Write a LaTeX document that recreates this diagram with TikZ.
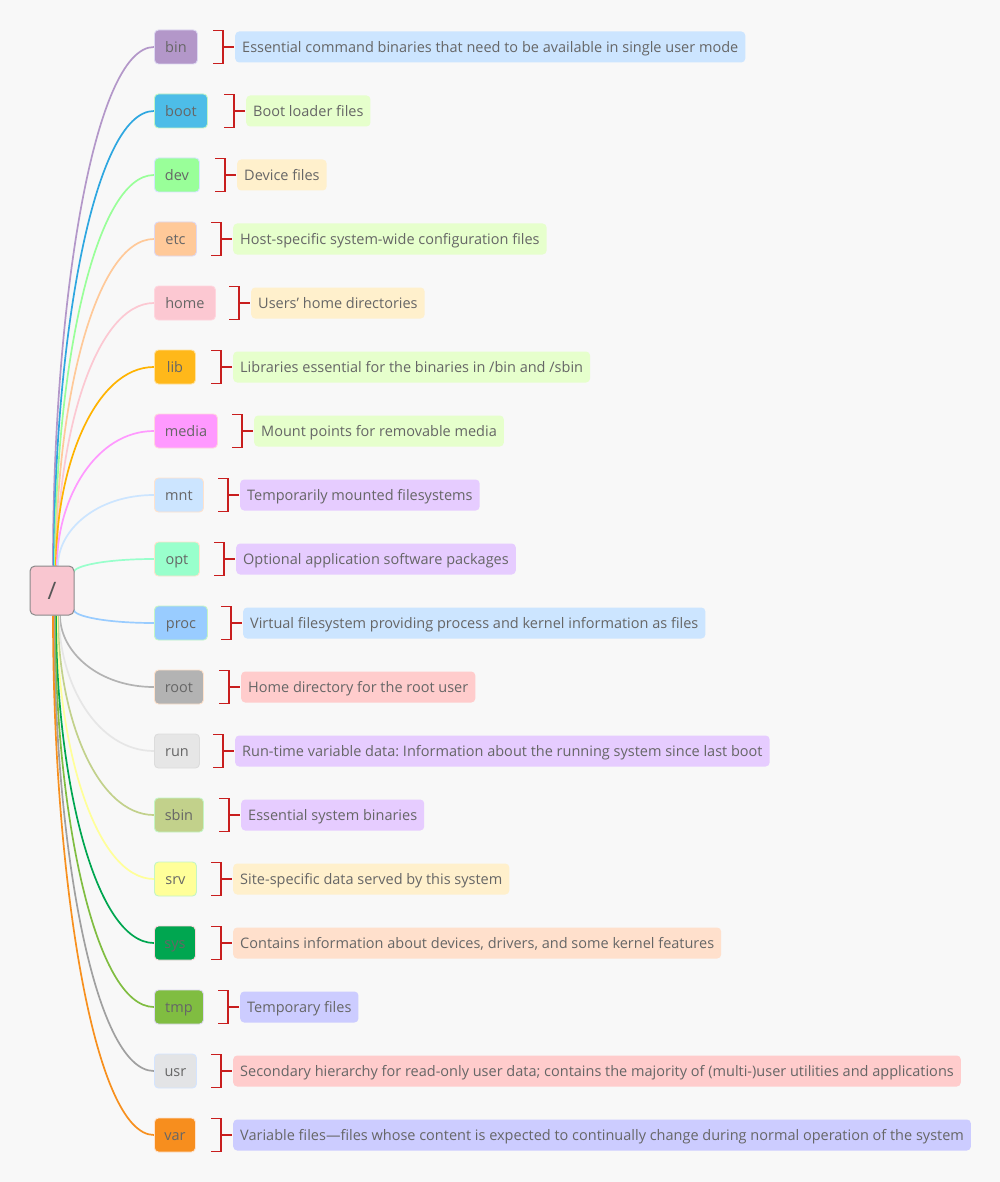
\documentclass[tikz,border=0pt]{standalone}
\usepackage{fontspec}
\setmainfont{Open Sans}
\usetikzlibrary{calc}
\frenchspacing
\pgfdeclarelayer{bg}
\pgfdeclarelayer{edges}
\pgfsetlayers{bg,edges,main}
\definecolor{bgc}{HTML}{F8F8F8}
\definecolor{txt}{HTML}{666666}
\definecolor{brkc}{HTML}{C81E1E}
\definecolor{dBlue}{HTML}{CCE5FF}
\definecolor{dGreen}{HTML}{E6FFCC}
\definecolor{dYellow}{HTML}{FFF0CC}
\definecolor{dPurple}{HTML}{E6CCFF}
\definecolor{dRed}{HTML}{FFCCCC}
\definecolor{dOrange}{HTML}{FFE0CC}
\definecolor{dLav}{HTML}{CCCCFF}
% directory box fills
\definecolor{fBin}{HTML}{B397C9}
\definecolor{fBoot}{HTML}{4DBDE8}
\definecolor{fDev}{HTML}{99FF99}
\definecolor{fEtc}{HTML}{FFC999}
\definecolor{fHome}{HTML}{FCC8D2}
\definecolor{fLib}{HTML}{FFB81A}
\definecolor{fMedia}{HTML}{FF99FF}
\definecolor{fMnt}{HTML}{CCE5FF}
\definecolor{fOpt}{HTML}{99FFCC}
\definecolor{fProc}{HTML}{99CCFF}
\definecolor{fRoot}{HTML}{B3B3B3}
\definecolor{fRun}{HTML}{E6E6E6}
\definecolor{fSbin}{HTML}{C2D18B}
\definecolor{fSrv}{HTML}{FFFF99}
\definecolor{fSys}{HTML}{00A650}
\definecolor{fTmp}{HTML}{80BD41}
\definecolor{fUsr}{HTML}{E3E4E6}
\definecolor{fVar}{HTML}{F78E1E}
% connector colours
\definecolor{lBoot}{HTML}{2EA7E0}
\definecolor{lLib}{HTML}{FFB300}
\definecolor{lUsr}{HTML}{A0A0A0}
\definecolor{lVar}{HTML}{F7901E}
% borders
\definecolor{bLav}{HTML}{DDD8F2}
\definecolor{bGreen}{HTML}{C4F5C4}
\definecolor{bBlue}{HTML}{D4E4FF}
\definecolor{bPink}{HTML}{FFD6DE}
\definecolor{bPeach}{HTML}{FFE2CC}
\definecolor{bYel}{HTML}{FFE2A0}
\definecolor{bGray}{HTML}{DCDCDC}
\definecolor{rootFill}{HTML}{F9C6D0}
\definecolor{rootLine}{HTML}{8A8A8A}

\newcommand\conn[3]{%
  \draw[ln, draw=#3] let \p1=(#1), \p2=(#2.west) in
    (\p1) .. controls (\x1,{0.5*(\y1+\y2)}) and ({\x1+0.4*(\x2-\x1)},\y2) .. (\p2);}
\newcommand\brk[1]{%
  \draw[brkline] ($(#1.west)+(-22,-16.5)$) -- ++(10,0) -- ++(0,33) -- ++(-10,0);
  \draw[brkline] ($(#1.west)+(-12,0)$) -- ($(#1.west)+(-1,0)$);}

\begin{document}
\begin{tikzpicture}[x=1pt,y=-1pt,
  dir/.style={rounded corners=4pt, minimum height=34pt, inner sep=0pt, anchor=west,
    font=\fontsize{14.5}{16}\selectfont, text=txt, line width=0.9pt,
    text height=12.2pt, text depth=2pt},
  desc/.style={rounded corners=4pt, minimum height=31pt, inner ysep=0pt, inner xsep=7pt,
    anchor=west, font=\fontsize{14.5}{16}\selectfont, text=txt,
    text height=12.2pt, text depth=2pt},
  ln/.style={line width=1.7pt},
  brkline/.style={draw=brkc, line width=1.2pt}]
\begin{pgfonlayer}{bg}
\fill[bgc] (0,0) rectangle (1000,1182);
\end{pgfonlayer}
\useasboundingbox (0,0) rectangle (1000,1182);

\node[draw=rootLine, fill=rootFill, rounded corners=5pt, line width=1pt,
  minimum width=44pt, minimum height=49pt, inner sep=0pt, text=txt!85!black,
  font=\fontsize{24}{26}\selectfont] (root) at (52,590.5) {/};

\node[dir, minimum width=43, fill=fBin, draw=bLav] (bin) at (154,47) {bin};
\node[dir, minimum width=53, fill=fBoot, draw=bGreen] (boot) at (154,111) {boot};
\node[dir, minimum width=45, fill=fDev, draw=bBlue] (dev) at (154,175) {dev};
\node[dir, minimum width=42, fill=fEtc, draw=bLav] (etc) at (154,239) {etc};
\node[dir, minimum width=61, fill=fHome, draw=bPink] (home) at (154,303) {home};
\node[dir, minimum width=41, fill=fLib, draw=bYel] (lib) at (154,367) {lib};
\node[dir, minimum width=63, fill=fMedia, draw=bPink] (media) at (154,431) {media};
\node[dir, minimum width=49, fill=fMnt, draw=bPeach] (mnt) at (154,495) {mnt};
\node[dir, minimum width=45, fill=fOpt, draw=bPeach] (opt) at (154,559) {opt};
\node[dir, minimum width=53, fill=fProc, draw=bGreen] (proc) at (154,623) {proc};
\node[dir, minimum width=49, fill=fRoot, draw=bPeach] (rootd) at (154,687) {root};
\node[dir, minimum width=45, fill=fRun, draw=bGray] (run) at (154,751) {run};
\node[dir, minimum width=49, fill=fSbin, draw=bGreen] (sbin) at (154,815) {sbin};
\node[dir, minimum width=42, fill=fSrv, draw=bGreen] (srv) at (154,879) {srv};
\node[dir, minimum width=41, fill=fSys, draw=bPink] (sys) at (154,943) {sys};
\node[dir, minimum width=49, fill=fTmp, draw=bLav] (tmp) at (154,1007) {tmp};
\node[dir, minimum width=42, fill=fUsr, draw=bBlue] (usr) at (154,1071) {usr};
\node[dir, minimum width=41, fill=fVar, draw=bPeach] (var) at (154,1135) {var};

\node[desc, fill=dBlue] (binD) at (235,47) {Essential command binaries that need to be available in single user mode};
\node[desc, fill=dGreen] (bootD) at (246,111) {Boot loader files};
\node[desc, fill=dYellow] (devD) at (237,175) {Device files};
\node[desc, fill=dGreen] (etcD) at (233,239) {Host-specific system-wide configuration files};
\node[desc, fill=dYellow] (homeD) at (251,303) {Users' home directories};
\node[desc, fill=dGreen] (libD) at (233,367) {Libraries essential for the binaries in /bin and /sbin};
\node[desc, fill=dGreen] (mediaD) at (254,431) {Mount points for removable media};
\node[desc, fill=dPurple] (mntD) at (240,495) {Temporarily mounted filesystems};
\node[desc, fill=dPurple] (optD) at (236,559) {Optional application software packages};
\node[desc, fill=dBlue] (procD) at (243,623) {Virtual filesystem providing process and kernel information as files};
\node[desc, fill=dRed] (rootdD) at (241,687) {Home directory for the root user};
\node[desc, fill=dPurple] (runD) at (235,751) {Run-time variable data: Information about the running system since last boot};
\node[desc, fill=dPurple] (sbinD) at (241,815) {Essential system binaries};
\node[desc, fill=dYellow] (srvD) at (233,879) {Site-specific data served by this system};
\node[desc, fill=dOrange] (sysD) at (233,943) {Contains information about devices, drivers, and some kernel features};
\node[desc, fill=dLav] (tmpD) at (240,1007) {Temporary files};
\node[desc, fill=dRed] (usrD) at (233,1071) {Secondary hierarchy for read-only user data; contains the majority of (multi-)user utilities and applications};
\node[desc, fill=dLav] (varD) at (233,1135) {Variable files—files whose content is expected to continually change during normal operation of the system};

\foreach \n in {binD,bootD,devD,etcD,homeD,libD,mediaD,mntD,optD,procD,rootdD,runD,sbinD,srvD,sysD,tmpD,usrD,varD}{\brk{\n}}

\begin{pgfonlayer}{edges}
\conn{$(root.north)+(1,0)$}{bin}{fBin}
\conn{$(root.north)+(2,0)$}{boot}{lBoot}
\conn{$(root.north)+(3,0)$}{dev}{fDev}
\conn{$(root.north)+(4,0)$}{etc}{fEtc}
\conn{$(root.north)+(5,0)$}{home}{fHome}
\conn{$(root.north)+(4,0)$}{lib}{lLib}
\conn{$(root.north)+(5,0)$}{media}{fMedia}
\conn{$(root.north)+(6,0)$}{mnt}{fMnt}
\conn{$(root.east)+(-1,-18)$}{opt}{fOpt}
\conn{$(root.east)+(-1,19)$}{proc}{fProc}
\conn{$(root.south)+(8,0)$}{rootd}{fRoot}
\conn{$(root.south)+(7,0)$}{run}{fRun}
\conn{$(root.south)+(6,0)$}{sbin}{fSbin}
\conn{$(root.south)+(5,0)$}{srv}{fSrv}
\conn{$(root.south)+(4,0)$}{sys}{fSys}
\conn{$(root.south)+(3,0)$}{tmp}{fTmp}
\conn{$(root.south)+(2,0)$}{usr}{lUsr}
\conn{$(root.south)+(1,0)$}{var}{lVar}
\end{pgfonlayer}
\end{tikzpicture}
\end{document}
